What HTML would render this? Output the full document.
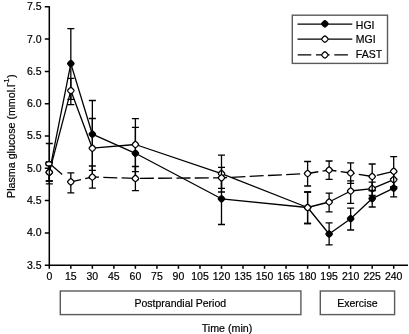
<!DOCTYPE html>
<html><head><meta charset="utf-8"><title>Plasma glucose chart</title>
<style>
html,body{margin:0;padding:0;background:#fff;}
body{width:409px;height:334px;overflow:hidden;font-family:"Liberation Sans",sans-serif;}
svg{display:block;filter:blur(0.35px);}
</style></head><body>
<svg width="409" height="334" viewBox="0 0 409 334">
<rect width="409" height="334" fill="#fff"/>
<path d="M49.3 6.2V265.9M48.599999999999994 265.2H408" fill="none" stroke="#000" stroke-width="1.5"/>
<path d="M44.8 265.20H49.3M44.8 232.90H49.3M44.8 200.60H49.3M44.8 168.30H49.3M44.8 136.00H49.3M44.8 103.70H49.3M44.8 71.40H49.3M44.8 39.10H49.3M44.8 6.80H49.3M49.30 265.2V268.8M70.83 265.2V268.8M92.35 265.2V268.8M113.88 265.2V268.8M135.40 265.2V268.8M156.93 265.2V268.8M178.45 265.2V268.8M199.98 265.2V268.8M221.50 265.2V268.8M243.02 265.2V268.8M264.55 265.2V268.8M286.07 265.2V268.8M307.60 265.2V268.8M329.12 265.2V268.8M350.65 265.2V268.8M372.18 265.2V268.8M393.70 265.2V268.8" fill="none" stroke="#000" stroke-width="1.5"/>
<text x="41.5" y="268.60" text-anchor="end" font-family="Liberation Sans, sans-serif" font-size="10.5" fill="#000" stroke="#000" stroke-width="0.2">3.5</text>
<text x="41.5" y="236.30" text-anchor="end" font-family="Liberation Sans, sans-serif" font-size="10.5" fill="#000" stroke="#000" stroke-width="0.2">4.0</text>
<text x="41.5" y="204.00" text-anchor="end" font-family="Liberation Sans, sans-serif" font-size="10.5" fill="#000" stroke="#000" stroke-width="0.2">4.5</text>
<text x="41.5" y="171.70" text-anchor="end" font-family="Liberation Sans, sans-serif" font-size="10.5" fill="#000" stroke="#000" stroke-width="0.2">5.0</text>
<text x="41.5" y="139.40" text-anchor="end" font-family="Liberation Sans, sans-serif" font-size="10.5" fill="#000" stroke="#000" stroke-width="0.2">5.5</text>
<text x="41.5" y="107.10" text-anchor="end" font-family="Liberation Sans, sans-serif" font-size="10.5" fill="#000" stroke="#000" stroke-width="0.2">6.0</text>
<text x="41.5" y="74.80" text-anchor="end" font-family="Liberation Sans, sans-serif" font-size="10.5" fill="#000" stroke="#000" stroke-width="0.2">6.5</text>
<text x="41.5" y="42.50" text-anchor="end" font-family="Liberation Sans, sans-serif" font-size="10.5" fill="#000" stroke="#000" stroke-width="0.2">7.0</text>
<text x="41.5" y="10.20" text-anchor="end" font-family="Liberation Sans, sans-serif" font-size="10.5" fill="#000" stroke="#000" stroke-width="0.2">7.5</text>
<text x="49.30" y="280.2" text-anchor="middle" font-family="Liberation Sans, sans-serif" font-size="10.5" fill="#000" stroke="#000" stroke-width="0.2">0</text>
<text x="70.83" y="280.2" text-anchor="middle" font-family="Liberation Sans, sans-serif" font-size="10.5" fill="#000" stroke="#000" stroke-width="0.2">15</text>
<text x="92.35" y="280.2" text-anchor="middle" font-family="Liberation Sans, sans-serif" font-size="10.5" fill="#000" stroke="#000" stroke-width="0.2">30</text>
<text x="113.88" y="280.2" text-anchor="middle" font-family="Liberation Sans, sans-serif" font-size="10.5" fill="#000" stroke="#000" stroke-width="0.2">45</text>
<text x="135.40" y="280.2" text-anchor="middle" font-family="Liberation Sans, sans-serif" font-size="10.5" fill="#000" stroke="#000" stroke-width="0.2">60</text>
<text x="156.93" y="280.2" text-anchor="middle" font-family="Liberation Sans, sans-serif" font-size="10.5" fill="#000" stroke="#000" stroke-width="0.2">75</text>
<text x="178.45" y="280.2" text-anchor="middle" font-family="Liberation Sans, sans-serif" font-size="10.5" fill="#000" stroke="#000" stroke-width="0.2">90</text>
<text x="199.98" y="280.2" text-anchor="middle" font-family="Liberation Sans, sans-serif" font-size="10.5" fill="#000" stroke="#000" stroke-width="0.2">105</text>
<text x="221.50" y="280.2" text-anchor="middle" font-family="Liberation Sans, sans-serif" font-size="10.5" fill="#000" stroke="#000" stroke-width="0.2">120</text>
<text x="243.02" y="280.2" text-anchor="middle" font-family="Liberation Sans, sans-serif" font-size="10.5" fill="#000" stroke="#000" stroke-width="0.2">135</text>
<text x="264.55" y="280.2" text-anchor="middle" font-family="Liberation Sans, sans-serif" font-size="10.5" fill="#000" stroke="#000" stroke-width="0.2">150</text>
<text x="286.07" y="280.2" text-anchor="middle" font-family="Liberation Sans, sans-serif" font-size="10.5" fill="#000" stroke="#000" stroke-width="0.2">165</text>
<text x="307.60" y="280.2" text-anchor="middle" font-family="Liberation Sans, sans-serif" font-size="10.5" fill="#000" stroke="#000" stroke-width="0.2">180</text>
<text x="329.12" y="280.2" text-anchor="middle" font-family="Liberation Sans, sans-serif" font-size="10.5" fill="#000" stroke="#000" stroke-width="0.2">195</text>
<text x="350.65" y="280.2" text-anchor="middle" font-family="Liberation Sans, sans-serif" font-size="10.5" fill="#000" stroke="#000" stroke-width="0.2">210</text>
<text x="372.18" y="280.2" text-anchor="middle" font-family="Liberation Sans, sans-serif" font-size="10.5" fill="#000" stroke="#000" stroke-width="0.2">225</text>
<text x="393.70" y="280.2" text-anchor="middle" font-family="Liberation Sans, sans-serif" font-size="10.5" fill="#000" stroke="#000" stroke-width="0.2">240</text>
<text transform="translate(15.3 197.9) rotate(-90)" font-family="Liberation Sans, sans-serif" font-size="10.68" fill="#000" stroke="#000" stroke-width="0.2">Plasma glucose (mmol.l<tspan font-size="8" dy="-6" dx="-0.7">-1</tspan><tspan dy="6" dx="0.3">)</tspan></text>
<rect x="60.3" y="291.0" width="240.6" height="23.6" fill="none" stroke="#5a5a5a" stroke-width="1.4"/>
<text x="180.3" y="307.3" text-anchor="middle" font-family="Liberation Sans, sans-serif" font-size="10.5" fill="#000" stroke="#000" stroke-width="0.2">Postprandial Period</text>
<rect x="320.3" y="291.0" width="74.3" height="23.6" fill="none" stroke="#5a5a5a" stroke-width="1.4"/>
<text x="357.4" y="307.3" text-anchor="middle" font-family="Liberation Sans, sans-serif" font-size="10.5" fill="#000" stroke="#000" stroke-width="0.2">Exercise</text>
<text x="227.0" y="331.7" textLength="50.6" lengthAdjust="spacingAndGlyphs" text-anchor="middle" font-family="Liberation Sans, sans-serif" font-size="10.5" fill="#000" stroke="#000" stroke-width="0.2">Time (min)</text>
<polyline points="49.30,172.30 70.83,63.60 92.35,134.20 135.40,153.30 221.50,198.80 307.60,207.50 329.12,234.00 350.65,218.70 372.18,198.60 393.70,188.20" fill="none" stroke="#000" stroke-width="1.3" stroke-linejoin="round"/>
<path d="M49.30 162.00V181.00M45.80 162.00H52.80M45.80 181.00H52.80M70.83 28.60V99.30M67.33 28.60H74.33M67.33 99.30H74.33M92.35 100.50V170.30M88.85 100.50H95.85M88.85 170.30H95.85M135.40 127.40V179.60M131.90 127.40H138.90M131.90 179.60H138.90M221.50 173.50V224.50M218.00 173.50H225.00M218.00 224.50H225.00M307.60 192.00V223.50M304.10 192.00H311.10M304.10 223.50H311.10M329.12 222.90V244.80M325.62 222.90H332.62M325.62 244.80H332.62M350.65 208.20V230.00M347.15 208.20H354.15M347.15 230.00H354.15M372.18 190.50V207.00M368.68 190.50H375.68M368.68 207.00H375.68M393.70 179.00V196.80M390.20 179.00H397.20M390.20 196.80H397.20" fill="none" stroke="#000" stroke-width="1.3"/>
<path transform="translate(49.30 172.30)" d="M3.20 0.00L3.16 0.14L3.03 0.40L2.83 0.73L2.56 1.10L2.24 1.49L1.88 1.88L1.49 2.24L1.10 2.56L0.73 2.83L0.40 3.03L0.14 3.16L0.00 3.20L-0.14 3.16L-0.40 3.03L-0.73 2.83L-1.10 2.56L-1.49 2.24L-1.88 1.88L-2.24 1.49L-2.56 1.10L-2.83 0.73L-3.03 0.40L-3.16 0.14L-3.20 0.00L-3.16 -0.14L-3.03 -0.40L-2.83 -0.73L-2.56 -1.10L-2.24 -1.49L-1.88 -1.88L-1.49 -2.24L-1.10 -2.56L-0.73 -2.83L-0.40 -3.03L-0.14 -3.16L-0.00 -3.20L0.14 -3.16L0.40 -3.03L0.73 -2.83L1.10 -2.56L1.49 -2.24L1.88 -1.88L2.24 -1.49L2.56 -1.10L2.83 -0.73L3.03 -0.40L3.16 -0.14Z" fill="#000" stroke="#000" stroke-width="1.3"/>
<path transform="translate(70.83 63.60)" d="M3.20 0.00L3.16 0.14L3.03 0.40L2.83 0.73L2.56 1.10L2.24 1.49L1.88 1.88L1.49 2.24L1.10 2.56L0.73 2.83L0.40 3.03L0.14 3.16L0.00 3.20L-0.14 3.16L-0.40 3.03L-0.73 2.83L-1.10 2.56L-1.49 2.24L-1.88 1.88L-2.24 1.49L-2.56 1.10L-2.83 0.73L-3.03 0.40L-3.16 0.14L-3.20 0.00L-3.16 -0.14L-3.03 -0.40L-2.83 -0.73L-2.56 -1.10L-2.24 -1.49L-1.88 -1.88L-1.49 -2.24L-1.10 -2.56L-0.73 -2.83L-0.40 -3.03L-0.14 -3.16L-0.00 -3.20L0.14 -3.16L0.40 -3.03L0.73 -2.83L1.10 -2.56L1.49 -2.24L1.88 -1.88L2.24 -1.49L2.56 -1.10L2.83 -0.73L3.03 -0.40L3.16 -0.14Z" fill="#000" stroke="#000" stroke-width="1.3"/>
<path transform="translate(92.35 134.20)" d="M3.20 0.00L3.16 0.14L3.03 0.40L2.83 0.73L2.56 1.10L2.24 1.49L1.88 1.88L1.49 2.24L1.10 2.56L0.73 2.83L0.40 3.03L0.14 3.16L0.00 3.20L-0.14 3.16L-0.40 3.03L-0.73 2.83L-1.10 2.56L-1.49 2.24L-1.88 1.88L-2.24 1.49L-2.56 1.10L-2.83 0.73L-3.03 0.40L-3.16 0.14L-3.20 0.00L-3.16 -0.14L-3.03 -0.40L-2.83 -0.73L-2.56 -1.10L-2.24 -1.49L-1.88 -1.88L-1.49 -2.24L-1.10 -2.56L-0.73 -2.83L-0.40 -3.03L-0.14 -3.16L-0.00 -3.20L0.14 -3.16L0.40 -3.03L0.73 -2.83L1.10 -2.56L1.49 -2.24L1.88 -1.88L2.24 -1.49L2.56 -1.10L2.83 -0.73L3.03 -0.40L3.16 -0.14Z" fill="#000" stroke="#000" stroke-width="1.3"/>
<path transform="translate(135.40 153.30)" d="M3.20 0.00L3.16 0.14L3.03 0.40L2.83 0.73L2.56 1.10L2.24 1.49L1.88 1.88L1.49 2.24L1.10 2.56L0.73 2.83L0.40 3.03L0.14 3.16L0.00 3.20L-0.14 3.16L-0.40 3.03L-0.73 2.83L-1.10 2.56L-1.49 2.24L-1.88 1.88L-2.24 1.49L-2.56 1.10L-2.83 0.73L-3.03 0.40L-3.16 0.14L-3.20 0.00L-3.16 -0.14L-3.03 -0.40L-2.83 -0.73L-2.56 -1.10L-2.24 -1.49L-1.88 -1.88L-1.49 -2.24L-1.10 -2.56L-0.73 -2.83L-0.40 -3.03L-0.14 -3.16L-0.00 -3.20L0.14 -3.16L0.40 -3.03L0.73 -2.83L1.10 -2.56L1.49 -2.24L1.88 -1.88L2.24 -1.49L2.56 -1.10L2.83 -0.73L3.03 -0.40L3.16 -0.14Z" fill="#000" stroke="#000" stroke-width="1.3"/>
<path transform="translate(221.50 198.80)" d="M3.20 0.00L3.16 0.14L3.03 0.40L2.83 0.73L2.56 1.10L2.24 1.49L1.88 1.88L1.49 2.24L1.10 2.56L0.73 2.83L0.40 3.03L0.14 3.16L0.00 3.20L-0.14 3.16L-0.40 3.03L-0.73 2.83L-1.10 2.56L-1.49 2.24L-1.88 1.88L-2.24 1.49L-2.56 1.10L-2.83 0.73L-3.03 0.40L-3.16 0.14L-3.20 0.00L-3.16 -0.14L-3.03 -0.40L-2.83 -0.73L-2.56 -1.10L-2.24 -1.49L-1.88 -1.88L-1.49 -2.24L-1.10 -2.56L-0.73 -2.83L-0.40 -3.03L-0.14 -3.16L-0.00 -3.20L0.14 -3.16L0.40 -3.03L0.73 -2.83L1.10 -2.56L1.49 -2.24L1.88 -1.88L2.24 -1.49L2.56 -1.10L2.83 -0.73L3.03 -0.40L3.16 -0.14Z" fill="#000" stroke="#000" stroke-width="1.3"/>
<path transform="translate(307.60 207.50)" d="M3.20 0.00L3.16 0.14L3.03 0.40L2.83 0.73L2.56 1.10L2.24 1.49L1.88 1.88L1.49 2.24L1.10 2.56L0.73 2.83L0.40 3.03L0.14 3.16L0.00 3.20L-0.14 3.16L-0.40 3.03L-0.73 2.83L-1.10 2.56L-1.49 2.24L-1.88 1.88L-2.24 1.49L-2.56 1.10L-2.83 0.73L-3.03 0.40L-3.16 0.14L-3.20 0.00L-3.16 -0.14L-3.03 -0.40L-2.83 -0.73L-2.56 -1.10L-2.24 -1.49L-1.88 -1.88L-1.49 -2.24L-1.10 -2.56L-0.73 -2.83L-0.40 -3.03L-0.14 -3.16L-0.00 -3.20L0.14 -3.16L0.40 -3.03L0.73 -2.83L1.10 -2.56L1.49 -2.24L1.88 -1.88L2.24 -1.49L2.56 -1.10L2.83 -0.73L3.03 -0.40L3.16 -0.14Z" fill="#000" stroke="#000" stroke-width="1.3"/>
<path transform="translate(329.12 234.00)" d="M3.20 0.00L3.16 0.14L3.03 0.40L2.83 0.73L2.56 1.10L2.24 1.49L1.88 1.88L1.49 2.24L1.10 2.56L0.73 2.83L0.40 3.03L0.14 3.16L0.00 3.20L-0.14 3.16L-0.40 3.03L-0.73 2.83L-1.10 2.56L-1.49 2.24L-1.88 1.88L-2.24 1.49L-2.56 1.10L-2.83 0.73L-3.03 0.40L-3.16 0.14L-3.20 0.00L-3.16 -0.14L-3.03 -0.40L-2.83 -0.73L-2.56 -1.10L-2.24 -1.49L-1.88 -1.88L-1.49 -2.24L-1.10 -2.56L-0.73 -2.83L-0.40 -3.03L-0.14 -3.16L-0.00 -3.20L0.14 -3.16L0.40 -3.03L0.73 -2.83L1.10 -2.56L1.49 -2.24L1.88 -1.88L2.24 -1.49L2.56 -1.10L2.83 -0.73L3.03 -0.40L3.16 -0.14Z" fill="#000" stroke="#000" stroke-width="1.3"/>
<path transform="translate(350.65 218.70)" d="M3.20 0.00L3.16 0.14L3.03 0.40L2.83 0.73L2.56 1.10L2.24 1.49L1.88 1.88L1.49 2.24L1.10 2.56L0.73 2.83L0.40 3.03L0.14 3.16L0.00 3.20L-0.14 3.16L-0.40 3.03L-0.73 2.83L-1.10 2.56L-1.49 2.24L-1.88 1.88L-2.24 1.49L-2.56 1.10L-2.83 0.73L-3.03 0.40L-3.16 0.14L-3.20 0.00L-3.16 -0.14L-3.03 -0.40L-2.83 -0.73L-2.56 -1.10L-2.24 -1.49L-1.88 -1.88L-1.49 -2.24L-1.10 -2.56L-0.73 -2.83L-0.40 -3.03L-0.14 -3.16L-0.00 -3.20L0.14 -3.16L0.40 -3.03L0.73 -2.83L1.10 -2.56L1.49 -2.24L1.88 -1.88L2.24 -1.49L2.56 -1.10L2.83 -0.73L3.03 -0.40L3.16 -0.14Z" fill="#000" stroke="#000" stroke-width="1.3"/>
<path transform="translate(372.18 198.60)" d="M3.20 0.00L3.16 0.14L3.03 0.40L2.83 0.73L2.56 1.10L2.24 1.49L1.88 1.88L1.49 2.24L1.10 2.56L0.73 2.83L0.40 3.03L0.14 3.16L0.00 3.20L-0.14 3.16L-0.40 3.03L-0.73 2.83L-1.10 2.56L-1.49 2.24L-1.88 1.88L-2.24 1.49L-2.56 1.10L-2.83 0.73L-3.03 0.40L-3.16 0.14L-3.20 0.00L-3.16 -0.14L-3.03 -0.40L-2.83 -0.73L-2.56 -1.10L-2.24 -1.49L-1.88 -1.88L-1.49 -2.24L-1.10 -2.56L-0.73 -2.83L-0.40 -3.03L-0.14 -3.16L-0.00 -3.20L0.14 -3.16L0.40 -3.03L0.73 -2.83L1.10 -2.56L1.49 -2.24L1.88 -1.88L2.24 -1.49L2.56 -1.10L2.83 -0.73L3.03 -0.40L3.16 -0.14Z" fill="#000" stroke="#000" stroke-width="1.3"/>
<path transform="translate(393.70 188.20)" d="M3.20 0.00L3.16 0.14L3.03 0.40L2.83 0.73L2.56 1.10L2.24 1.49L1.88 1.88L1.49 2.24L1.10 2.56L0.73 2.83L0.40 3.03L0.14 3.16L0.00 3.20L-0.14 3.16L-0.40 3.03L-0.73 2.83L-1.10 2.56L-1.49 2.24L-1.88 1.88L-2.24 1.49L-2.56 1.10L-2.83 0.73L-3.03 0.40L-3.16 0.14L-3.20 0.00L-3.16 -0.14L-3.03 -0.40L-2.83 -0.73L-2.56 -1.10L-2.24 -1.49L-1.88 -1.88L-1.49 -2.24L-1.10 -2.56L-0.73 -2.83L-0.40 -3.03L-0.14 -3.16L-0.00 -3.20L0.14 -3.16L0.40 -3.03L0.73 -2.83L1.10 -2.56L1.49 -2.24L1.88 -1.88L2.24 -1.49L2.56 -1.10L2.83 -0.73L3.03 -0.40L3.16 -0.14Z" fill="#000" stroke="#000" stroke-width="1.3"/>
<polyline points="49.30,172.30 70.83,90.60 92.35,148.20 135.40,144.50 221.50,173.60 307.60,207.50 329.12,202.00 350.65,191.00 372.18,188.60 393.70,179.60" fill="none" stroke="#000" stroke-width="1.3" stroke-linejoin="round"/>
<path d="M49.30 162.50V181.00M45.80 162.50H52.80M45.80 181.00H52.80M70.83 78.40V104.70M67.33 78.40H74.33M67.33 104.70H74.33M92.35 118.50V177.90M88.85 118.50H95.85M88.85 177.90H95.85M135.40 118.70V171.60M131.90 118.70H138.90M131.90 171.60H138.90M221.50 155.20V192.00M218.00 155.20H225.00M218.00 192.00H225.00M307.60 192.00V223.50M304.10 192.00H311.10M304.10 223.50H311.10M329.12 193.20V211.80M325.62 193.20H332.62M325.62 211.80H332.62M350.65 180.80V203.30M347.15 180.80H354.15M347.15 203.30H354.15M372.18 182.20V195.50M368.68 182.20H375.68M368.68 195.50H375.68M393.70 172.00V187.00M390.20 172.00H397.20M390.20 187.00H397.20" fill="none" stroke="#000" stroke-width="1.3"/>
<path transform="translate(49.30 172.30)" d="M3.20 0.00L3.16 0.14L3.03 0.40L2.83 0.73L2.56 1.10L2.24 1.49L1.88 1.88L1.49 2.24L1.10 2.56L0.73 2.83L0.40 3.03L0.14 3.16L0.00 3.20L-0.14 3.16L-0.40 3.03L-0.73 2.83L-1.10 2.56L-1.49 2.24L-1.88 1.88L-2.24 1.49L-2.56 1.10L-2.83 0.73L-3.03 0.40L-3.16 0.14L-3.20 0.00L-3.16 -0.14L-3.03 -0.40L-2.83 -0.73L-2.56 -1.10L-2.24 -1.49L-1.88 -1.88L-1.49 -2.24L-1.10 -2.56L-0.73 -2.83L-0.40 -3.03L-0.14 -3.16L-0.00 -3.20L0.14 -3.16L0.40 -3.03L0.73 -2.83L1.10 -2.56L1.49 -2.24L1.88 -1.88L2.24 -1.49L2.56 -1.10L2.83 -0.73L3.03 -0.40L3.16 -0.14Z" fill="#fff" stroke="#000" stroke-width="1.3"/>
<path transform="translate(70.83 90.60)" d="M3.20 0.00L3.16 0.14L3.03 0.40L2.83 0.73L2.56 1.10L2.24 1.49L1.88 1.88L1.49 2.24L1.10 2.56L0.73 2.83L0.40 3.03L0.14 3.16L0.00 3.20L-0.14 3.16L-0.40 3.03L-0.73 2.83L-1.10 2.56L-1.49 2.24L-1.88 1.88L-2.24 1.49L-2.56 1.10L-2.83 0.73L-3.03 0.40L-3.16 0.14L-3.20 0.00L-3.16 -0.14L-3.03 -0.40L-2.83 -0.73L-2.56 -1.10L-2.24 -1.49L-1.88 -1.88L-1.49 -2.24L-1.10 -2.56L-0.73 -2.83L-0.40 -3.03L-0.14 -3.16L-0.00 -3.20L0.14 -3.16L0.40 -3.03L0.73 -2.83L1.10 -2.56L1.49 -2.24L1.88 -1.88L2.24 -1.49L2.56 -1.10L2.83 -0.73L3.03 -0.40L3.16 -0.14Z" fill="#fff" stroke="#000" stroke-width="1.3"/>
<path transform="translate(92.35 148.20)" d="M3.20 0.00L3.16 0.14L3.03 0.40L2.83 0.73L2.56 1.10L2.24 1.49L1.88 1.88L1.49 2.24L1.10 2.56L0.73 2.83L0.40 3.03L0.14 3.16L0.00 3.20L-0.14 3.16L-0.40 3.03L-0.73 2.83L-1.10 2.56L-1.49 2.24L-1.88 1.88L-2.24 1.49L-2.56 1.10L-2.83 0.73L-3.03 0.40L-3.16 0.14L-3.20 0.00L-3.16 -0.14L-3.03 -0.40L-2.83 -0.73L-2.56 -1.10L-2.24 -1.49L-1.88 -1.88L-1.49 -2.24L-1.10 -2.56L-0.73 -2.83L-0.40 -3.03L-0.14 -3.16L-0.00 -3.20L0.14 -3.16L0.40 -3.03L0.73 -2.83L1.10 -2.56L1.49 -2.24L1.88 -1.88L2.24 -1.49L2.56 -1.10L2.83 -0.73L3.03 -0.40L3.16 -0.14Z" fill="#fff" stroke="#000" stroke-width="1.3"/>
<path transform="translate(135.40 144.50)" d="M3.20 0.00L3.16 0.14L3.03 0.40L2.83 0.73L2.56 1.10L2.24 1.49L1.88 1.88L1.49 2.24L1.10 2.56L0.73 2.83L0.40 3.03L0.14 3.16L0.00 3.20L-0.14 3.16L-0.40 3.03L-0.73 2.83L-1.10 2.56L-1.49 2.24L-1.88 1.88L-2.24 1.49L-2.56 1.10L-2.83 0.73L-3.03 0.40L-3.16 0.14L-3.20 0.00L-3.16 -0.14L-3.03 -0.40L-2.83 -0.73L-2.56 -1.10L-2.24 -1.49L-1.88 -1.88L-1.49 -2.24L-1.10 -2.56L-0.73 -2.83L-0.40 -3.03L-0.14 -3.16L-0.00 -3.20L0.14 -3.16L0.40 -3.03L0.73 -2.83L1.10 -2.56L1.49 -2.24L1.88 -1.88L2.24 -1.49L2.56 -1.10L2.83 -0.73L3.03 -0.40L3.16 -0.14Z" fill="#fff" stroke="#000" stroke-width="1.3"/>
<path transform="translate(221.50 173.60)" d="M3.20 0.00L3.16 0.14L3.03 0.40L2.83 0.73L2.56 1.10L2.24 1.49L1.88 1.88L1.49 2.24L1.10 2.56L0.73 2.83L0.40 3.03L0.14 3.16L0.00 3.20L-0.14 3.16L-0.40 3.03L-0.73 2.83L-1.10 2.56L-1.49 2.24L-1.88 1.88L-2.24 1.49L-2.56 1.10L-2.83 0.73L-3.03 0.40L-3.16 0.14L-3.20 0.00L-3.16 -0.14L-3.03 -0.40L-2.83 -0.73L-2.56 -1.10L-2.24 -1.49L-1.88 -1.88L-1.49 -2.24L-1.10 -2.56L-0.73 -2.83L-0.40 -3.03L-0.14 -3.16L-0.00 -3.20L0.14 -3.16L0.40 -3.03L0.73 -2.83L1.10 -2.56L1.49 -2.24L1.88 -1.88L2.24 -1.49L2.56 -1.10L2.83 -0.73L3.03 -0.40L3.16 -0.14Z" fill="#fff" stroke="#000" stroke-width="1.3"/>
<path transform="translate(307.60 207.50)" d="M3.20 0.00L3.16 0.14L3.03 0.40L2.83 0.73L2.56 1.10L2.24 1.49L1.88 1.88L1.49 2.24L1.10 2.56L0.73 2.83L0.40 3.03L0.14 3.16L0.00 3.20L-0.14 3.16L-0.40 3.03L-0.73 2.83L-1.10 2.56L-1.49 2.24L-1.88 1.88L-2.24 1.49L-2.56 1.10L-2.83 0.73L-3.03 0.40L-3.16 0.14L-3.20 0.00L-3.16 -0.14L-3.03 -0.40L-2.83 -0.73L-2.56 -1.10L-2.24 -1.49L-1.88 -1.88L-1.49 -2.24L-1.10 -2.56L-0.73 -2.83L-0.40 -3.03L-0.14 -3.16L-0.00 -3.20L0.14 -3.16L0.40 -3.03L0.73 -2.83L1.10 -2.56L1.49 -2.24L1.88 -1.88L2.24 -1.49L2.56 -1.10L2.83 -0.73L3.03 -0.40L3.16 -0.14Z" fill="#fff" stroke="#000" stroke-width="1.3"/>
<path transform="translate(329.12 202.00)" d="M3.20 0.00L3.16 0.14L3.03 0.40L2.83 0.73L2.56 1.10L2.24 1.49L1.88 1.88L1.49 2.24L1.10 2.56L0.73 2.83L0.40 3.03L0.14 3.16L0.00 3.20L-0.14 3.16L-0.40 3.03L-0.73 2.83L-1.10 2.56L-1.49 2.24L-1.88 1.88L-2.24 1.49L-2.56 1.10L-2.83 0.73L-3.03 0.40L-3.16 0.14L-3.20 0.00L-3.16 -0.14L-3.03 -0.40L-2.83 -0.73L-2.56 -1.10L-2.24 -1.49L-1.88 -1.88L-1.49 -2.24L-1.10 -2.56L-0.73 -2.83L-0.40 -3.03L-0.14 -3.16L-0.00 -3.20L0.14 -3.16L0.40 -3.03L0.73 -2.83L1.10 -2.56L1.49 -2.24L1.88 -1.88L2.24 -1.49L2.56 -1.10L2.83 -0.73L3.03 -0.40L3.16 -0.14Z" fill="#fff" stroke="#000" stroke-width="1.3"/>
<path transform="translate(350.65 191.00)" d="M3.20 0.00L3.16 0.14L3.03 0.40L2.83 0.73L2.56 1.10L2.24 1.49L1.88 1.88L1.49 2.24L1.10 2.56L0.73 2.83L0.40 3.03L0.14 3.16L0.00 3.20L-0.14 3.16L-0.40 3.03L-0.73 2.83L-1.10 2.56L-1.49 2.24L-1.88 1.88L-2.24 1.49L-2.56 1.10L-2.83 0.73L-3.03 0.40L-3.16 0.14L-3.20 0.00L-3.16 -0.14L-3.03 -0.40L-2.83 -0.73L-2.56 -1.10L-2.24 -1.49L-1.88 -1.88L-1.49 -2.24L-1.10 -2.56L-0.73 -2.83L-0.40 -3.03L-0.14 -3.16L-0.00 -3.20L0.14 -3.16L0.40 -3.03L0.73 -2.83L1.10 -2.56L1.49 -2.24L1.88 -1.88L2.24 -1.49L2.56 -1.10L2.83 -0.73L3.03 -0.40L3.16 -0.14Z" fill="#fff" stroke="#000" stroke-width="1.3"/>
<path transform="translate(372.18 188.60)" d="M3.20 0.00L3.16 0.14L3.03 0.40L2.83 0.73L2.56 1.10L2.24 1.49L1.88 1.88L1.49 2.24L1.10 2.56L0.73 2.83L0.40 3.03L0.14 3.16L0.00 3.20L-0.14 3.16L-0.40 3.03L-0.73 2.83L-1.10 2.56L-1.49 2.24L-1.88 1.88L-2.24 1.49L-2.56 1.10L-2.83 0.73L-3.03 0.40L-3.16 0.14L-3.20 0.00L-3.16 -0.14L-3.03 -0.40L-2.83 -0.73L-2.56 -1.10L-2.24 -1.49L-1.88 -1.88L-1.49 -2.24L-1.10 -2.56L-0.73 -2.83L-0.40 -3.03L-0.14 -3.16L-0.00 -3.20L0.14 -3.16L0.40 -3.03L0.73 -2.83L1.10 -2.56L1.49 -2.24L1.88 -1.88L2.24 -1.49L2.56 -1.10L2.83 -0.73L3.03 -0.40L3.16 -0.14Z" fill="#fff" stroke="#000" stroke-width="1.3"/>
<path transform="translate(393.70 179.60)" d="M3.20 0.00L3.16 0.14L3.03 0.40L2.83 0.73L2.56 1.10L2.24 1.49L1.88 1.88L1.49 2.24L1.10 2.56L0.73 2.83L0.40 3.03L0.14 3.16L0.00 3.20L-0.14 3.16L-0.40 3.03L-0.73 2.83L-1.10 2.56L-1.49 2.24L-1.88 1.88L-2.24 1.49L-2.56 1.10L-2.83 0.73L-3.03 0.40L-3.16 0.14L-3.20 0.00L-3.16 -0.14L-3.03 -0.40L-2.83 -0.73L-2.56 -1.10L-2.24 -1.49L-1.88 -1.88L-1.49 -2.24L-1.10 -2.56L-0.73 -2.83L-0.40 -3.03L-0.14 -3.16L-0.00 -3.20L0.14 -3.16L0.40 -3.03L0.73 -2.83L1.10 -2.56L1.49 -2.24L1.88 -1.88L2.24 -1.49L2.56 -1.10L2.83 -0.73L3.03 -0.40L3.16 -0.14Z" fill="#fff" stroke="#000" stroke-width="1.3"/>
<line x1="51.28" y1="165.09" x2="62.22" y2="174.45" stroke="#000" stroke-width="1.3"/>
<polyline points="70.83,181.80 92.35,177.00 135.40,178.40 221.50,177.80 307.60,173.50 329.12,170.00 350.65,173.00 372.18,176.50 393.70,171.30" fill="none" stroke="#000" stroke-width="1.3" stroke-linejoin="round" stroke-dasharray="14 4.3" stroke-dashoffset="3.6"/>
<path d="M49.30 143.50V183.80M45.80 143.50H52.80M45.80 183.80H52.80M70.83 172.80V192.80M67.33 172.80H74.33M67.33 192.80H74.33M92.35 166.00V188.20M88.85 166.00H95.85M88.85 188.20H95.85M135.40 166.50V190.60M131.90 166.50H138.90M131.90 190.60H138.90M221.50 167.40V188.30M218.00 167.40H225.00M218.00 188.30H225.00M307.60 161.50V186.00M304.10 161.50H311.10M304.10 186.00H311.10M329.12 161.00V179.30M325.62 161.00H332.62M325.62 179.30H332.62M350.65 162.80V183.30M347.15 162.80H354.15M347.15 183.30H354.15M372.18 164.00V190.50M368.68 164.00H375.68M368.68 190.50H375.68M393.70 156.60V186.60M390.20 156.60H397.20M390.20 186.60H397.20" fill="none" stroke="#000" stroke-width="1.3"/>
<ellipse cx="48.9" cy="163.8" rx="3.2" ry="2.2" fill="#fff" stroke="#000" stroke-width="1.3"/>
<path transform="translate(70.83 181.80)" d="M3.20 0.00L3.16 0.14L3.03 0.40L2.83 0.73L2.56 1.10L2.24 1.49L1.88 1.88L1.49 2.24L1.10 2.56L0.73 2.83L0.40 3.03L0.14 3.16L0.00 3.20L-0.14 3.16L-0.40 3.03L-0.73 2.83L-1.10 2.56L-1.49 2.24L-1.88 1.88L-2.24 1.49L-2.56 1.10L-2.83 0.73L-3.03 0.40L-3.16 0.14L-3.20 0.00L-3.16 -0.14L-3.03 -0.40L-2.83 -0.73L-2.56 -1.10L-2.24 -1.49L-1.88 -1.88L-1.49 -2.24L-1.10 -2.56L-0.73 -2.83L-0.40 -3.03L-0.14 -3.16L-0.00 -3.20L0.14 -3.16L0.40 -3.03L0.73 -2.83L1.10 -2.56L1.49 -2.24L1.88 -1.88L2.24 -1.49L2.56 -1.10L2.83 -0.73L3.03 -0.40L3.16 -0.14Z" fill="#fff" stroke="#000" stroke-width="1.3"/>
<path transform="translate(92.35 177.00)" d="M3.20 0.00L3.16 0.14L3.03 0.40L2.83 0.73L2.56 1.10L2.24 1.49L1.88 1.88L1.49 2.24L1.10 2.56L0.73 2.83L0.40 3.03L0.14 3.16L0.00 3.20L-0.14 3.16L-0.40 3.03L-0.73 2.83L-1.10 2.56L-1.49 2.24L-1.88 1.88L-2.24 1.49L-2.56 1.10L-2.83 0.73L-3.03 0.40L-3.16 0.14L-3.20 0.00L-3.16 -0.14L-3.03 -0.40L-2.83 -0.73L-2.56 -1.10L-2.24 -1.49L-1.88 -1.88L-1.49 -2.24L-1.10 -2.56L-0.73 -2.83L-0.40 -3.03L-0.14 -3.16L-0.00 -3.20L0.14 -3.16L0.40 -3.03L0.73 -2.83L1.10 -2.56L1.49 -2.24L1.88 -1.88L2.24 -1.49L2.56 -1.10L2.83 -0.73L3.03 -0.40L3.16 -0.14Z" fill="#fff" stroke="#000" stroke-width="1.3"/>
<path transform="translate(135.40 178.40)" d="M3.20 0.00L3.16 0.14L3.03 0.40L2.83 0.73L2.56 1.10L2.24 1.49L1.88 1.88L1.49 2.24L1.10 2.56L0.73 2.83L0.40 3.03L0.14 3.16L0.00 3.20L-0.14 3.16L-0.40 3.03L-0.73 2.83L-1.10 2.56L-1.49 2.24L-1.88 1.88L-2.24 1.49L-2.56 1.10L-2.83 0.73L-3.03 0.40L-3.16 0.14L-3.20 0.00L-3.16 -0.14L-3.03 -0.40L-2.83 -0.73L-2.56 -1.10L-2.24 -1.49L-1.88 -1.88L-1.49 -2.24L-1.10 -2.56L-0.73 -2.83L-0.40 -3.03L-0.14 -3.16L-0.00 -3.20L0.14 -3.16L0.40 -3.03L0.73 -2.83L1.10 -2.56L1.49 -2.24L1.88 -1.88L2.24 -1.49L2.56 -1.10L2.83 -0.73L3.03 -0.40L3.16 -0.14Z" fill="#fff" stroke="#000" stroke-width="1.3"/>
<path transform="translate(221.50 177.80)" d="M3.20 0.00L3.16 0.14L3.03 0.40L2.83 0.73L2.56 1.10L2.24 1.49L1.88 1.88L1.49 2.24L1.10 2.56L0.73 2.83L0.40 3.03L0.14 3.16L0.00 3.20L-0.14 3.16L-0.40 3.03L-0.73 2.83L-1.10 2.56L-1.49 2.24L-1.88 1.88L-2.24 1.49L-2.56 1.10L-2.83 0.73L-3.03 0.40L-3.16 0.14L-3.20 0.00L-3.16 -0.14L-3.03 -0.40L-2.83 -0.73L-2.56 -1.10L-2.24 -1.49L-1.88 -1.88L-1.49 -2.24L-1.10 -2.56L-0.73 -2.83L-0.40 -3.03L-0.14 -3.16L-0.00 -3.20L0.14 -3.16L0.40 -3.03L0.73 -2.83L1.10 -2.56L1.49 -2.24L1.88 -1.88L2.24 -1.49L2.56 -1.10L2.83 -0.73L3.03 -0.40L3.16 -0.14Z" fill="#fff" stroke="#000" stroke-width="1.3"/>
<path transform="translate(307.60 173.50)" d="M3.20 0.00L3.16 0.14L3.03 0.40L2.83 0.73L2.56 1.10L2.24 1.49L1.88 1.88L1.49 2.24L1.10 2.56L0.73 2.83L0.40 3.03L0.14 3.16L0.00 3.20L-0.14 3.16L-0.40 3.03L-0.73 2.83L-1.10 2.56L-1.49 2.24L-1.88 1.88L-2.24 1.49L-2.56 1.10L-2.83 0.73L-3.03 0.40L-3.16 0.14L-3.20 0.00L-3.16 -0.14L-3.03 -0.40L-2.83 -0.73L-2.56 -1.10L-2.24 -1.49L-1.88 -1.88L-1.49 -2.24L-1.10 -2.56L-0.73 -2.83L-0.40 -3.03L-0.14 -3.16L-0.00 -3.20L0.14 -3.16L0.40 -3.03L0.73 -2.83L1.10 -2.56L1.49 -2.24L1.88 -1.88L2.24 -1.49L2.56 -1.10L2.83 -0.73L3.03 -0.40L3.16 -0.14Z" fill="#fff" stroke="#000" stroke-width="1.3"/>
<path transform="translate(329.12 170.00)" d="M3.20 0.00L3.16 0.14L3.03 0.40L2.83 0.73L2.56 1.10L2.24 1.49L1.88 1.88L1.49 2.24L1.10 2.56L0.73 2.83L0.40 3.03L0.14 3.16L0.00 3.20L-0.14 3.16L-0.40 3.03L-0.73 2.83L-1.10 2.56L-1.49 2.24L-1.88 1.88L-2.24 1.49L-2.56 1.10L-2.83 0.73L-3.03 0.40L-3.16 0.14L-3.20 0.00L-3.16 -0.14L-3.03 -0.40L-2.83 -0.73L-2.56 -1.10L-2.24 -1.49L-1.88 -1.88L-1.49 -2.24L-1.10 -2.56L-0.73 -2.83L-0.40 -3.03L-0.14 -3.16L-0.00 -3.20L0.14 -3.16L0.40 -3.03L0.73 -2.83L1.10 -2.56L1.49 -2.24L1.88 -1.88L2.24 -1.49L2.56 -1.10L2.83 -0.73L3.03 -0.40L3.16 -0.14Z" fill="#fff" stroke="#000" stroke-width="1.3"/>
<path transform="translate(350.65 173.00)" d="M3.20 0.00L3.16 0.14L3.03 0.40L2.83 0.73L2.56 1.10L2.24 1.49L1.88 1.88L1.49 2.24L1.10 2.56L0.73 2.83L0.40 3.03L0.14 3.16L0.00 3.20L-0.14 3.16L-0.40 3.03L-0.73 2.83L-1.10 2.56L-1.49 2.24L-1.88 1.88L-2.24 1.49L-2.56 1.10L-2.83 0.73L-3.03 0.40L-3.16 0.14L-3.20 0.00L-3.16 -0.14L-3.03 -0.40L-2.83 -0.73L-2.56 -1.10L-2.24 -1.49L-1.88 -1.88L-1.49 -2.24L-1.10 -2.56L-0.73 -2.83L-0.40 -3.03L-0.14 -3.16L-0.00 -3.20L0.14 -3.16L0.40 -3.03L0.73 -2.83L1.10 -2.56L1.49 -2.24L1.88 -1.88L2.24 -1.49L2.56 -1.10L2.83 -0.73L3.03 -0.40L3.16 -0.14Z" fill="#fff" stroke="#000" stroke-width="1.3"/>
<path transform="translate(372.18 176.50)" d="M3.20 0.00L3.16 0.14L3.03 0.40L2.83 0.73L2.56 1.10L2.24 1.49L1.88 1.88L1.49 2.24L1.10 2.56L0.73 2.83L0.40 3.03L0.14 3.16L0.00 3.20L-0.14 3.16L-0.40 3.03L-0.73 2.83L-1.10 2.56L-1.49 2.24L-1.88 1.88L-2.24 1.49L-2.56 1.10L-2.83 0.73L-3.03 0.40L-3.16 0.14L-3.20 0.00L-3.16 -0.14L-3.03 -0.40L-2.83 -0.73L-2.56 -1.10L-2.24 -1.49L-1.88 -1.88L-1.49 -2.24L-1.10 -2.56L-0.73 -2.83L-0.40 -3.03L-0.14 -3.16L-0.00 -3.20L0.14 -3.16L0.40 -3.03L0.73 -2.83L1.10 -2.56L1.49 -2.24L1.88 -1.88L2.24 -1.49L2.56 -1.10L2.83 -0.73L3.03 -0.40L3.16 -0.14Z" fill="#fff" stroke="#000" stroke-width="1.3"/>
<path transform="translate(393.70 171.30)" d="M3.20 0.00L3.16 0.14L3.03 0.40L2.83 0.73L2.56 1.10L2.24 1.49L1.88 1.88L1.49 2.24L1.10 2.56L0.73 2.83L0.40 3.03L0.14 3.16L0.00 3.20L-0.14 3.16L-0.40 3.03L-0.73 2.83L-1.10 2.56L-1.49 2.24L-1.88 1.88L-2.24 1.49L-2.56 1.10L-2.83 0.73L-3.03 0.40L-3.16 0.14L-3.20 0.00L-3.16 -0.14L-3.03 -0.40L-2.83 -0.73L-2.56 -1.10L-2.24 -1.49L-1.88 -1.88L-1.49 -2.24L-1.10 -2.56L-0.73 -2.83L-0.40 -3.03L-0.14 -3.16L-0.00 -3.20L0.14 -3.16L0.40 -3.03L0.73 -2.83L1.10 -2.56L1.49 -2.24L1.88 -1.88L2.24 -1.49L2.56 -1.10L2.83 -0.73L3.03 -0.40L3.16 -0.14Z" fill="#fff" stroke="#000" stroke-width="1.3"/>
<rect x="292.3" y="15.2" width="95.2" height="48.2" fill="#fff" stroke="#5a5a5a" stroke-width="1.4"/>
<path d="M297.5 24.1H352.3M297.5 39.1H352.3" stroke="#000" stroke-width="1.3"/>
<path d="M297.7 54.9H348" stroke="#000" stroke-width="1.3" stroke-dasharray="13.6 4.7"/>
<path transform="translate(324.90 23.80)" d="M3.20 0.00L3.16 0.14L3.03 0.40L2.83 0.73L2.56 1.10L2.24 1.49L1.88 1.88L1.49 2.24L1.10 2.56L0.73 2.83L0.40 3.03L0.14 3.16L0.00 3.20L-0.14 3.16L-0.40 3.03L-0.73 2.83L-1.10 2.56L-1.49 2.24L-1.88 1.88L-2.24 1.49L-2.56 1.10L-2.83 0.73L-3.03 0.40L-3.16 0.14L-3.20 0.00L-3.16 -0.14L-3.03 -0.40L-2.83 -0.73L-2.56 -1.10L-2.24 -1.49L-1.88 -1.88L-1.49 -2.24L-1.10 -2.56L-0.73 -2.83L-0.40 -3.03L-0.14 -3.16L-0.00 -3.20L0.14 -3.16L0.40 -3.03L0.73 -2.83L1.10 -2.56L1.49 -2.24L1.88 -1.88L2.24 -1.49L2.56 -1.10L2.83 -0.73L3.03 -0.40L3.16 -0.14Z" fill="#000" stroke="#000" stroke-width="1.3"/>
<path transform="translate(324.90 39.10)" d="M3.20 0.00L3.16 0.14L3.03 0.40L2.83 0.73L2.56 1.10L2.24 1.49L1.88 1.88L1.49 2.24L1.10 2.56L0.73 2.83L0.40 3.03L0.14 3.16L0.00 3.20L-0.14 3.16L-0.40 3.03L-0.73 2.83L-1.10 2.56L-1.49 2.24L-1.88 1.88L-2.24 1.49L-2.56 1.10L-2.83 0.73L-3.03 0.40L-3.16 0.14L-3.20 0.00L-3.16 -0.14L-3.03 -0.40L-2.83 -0.73L-2.56 -1.10L-2.24 -1.49L-1.88 -1.88L-1.49 -2.24L-1.10 -2.56L-0.73 -2.83L-0.40 -3.03L-0.14 -3.16L-0.00 -3.20L0.14 -3.16L0.40 -3.03L0.73 -2.83L1.10 -2.56L1.49 -2.24L1.88 -1.88L2.24 -1.49L2.56 -1.10L2.83 -0.73L3.03 -0.40L3.16 -0.14Z" fill="#fff" stroke="#000" stroke-width="1.3"/>
<path transform="translate(324.90 54.90)" d="M3.20 0.00L3.16 0.14L3.03 0.40L2.83 0.73L2.56 1.10L2.24 1.49L1.88 1.88L1.49 2.24L1.10 2.56L0.73 2.83L0.40 3.03L0.14 3.16L0.00 3.20L-0.14 3.16L-0.40 3.03L-0.73 2.83L-1.10 2.56L-1.49 2.24L-1.88 1.88L-2.24 1.49L-2.56 1.10L-2.83 0.73L-3.03 0.40L-3.16 0.14L-3.20 0.00L-3.16 -0.14L-3.03 -0.40L-2.83 -0.73L-2.56 -1.10L-2.24 -1.49L-1.88 -1.88L-1.49 -2.24L-1.10 -2.56L-0.73 -2.83L-0.40 -3.03L-0.14 -3.16L-0.00 -3.20L0.14 -3.16L0.40 -3.03L0.73 -2.83L1.10 -2.56L1.49 -2.24L1.88 -1.88L2.24 -1.49L2.56 -1.10L2.83 -0.73L3.03 -0.40L3.16 -0.14Z" fill="#fff" stroke="#000" stroke-width="1.3"/>
<text x="355.8" y="28.5" font-family="Liberation Sans, sans-serif" font-size="10.5" fill="#000" stroke="#000" stroke-width="0.2">HGI</text>
<text x="355.8" y="43.3" font-family="Liberation Sans, sans-serif" font-size="10.5" fill="#000" stroke="#000" stroke-width="0.2">MGI</text>
<text x="355.8" y="58.3" font-family="Liberation Sans, sans-serif" font-size="10.5" fill="#000" stroke="#000" stroke-width="0.2">FAST</text>
</svg>
</body></html>
